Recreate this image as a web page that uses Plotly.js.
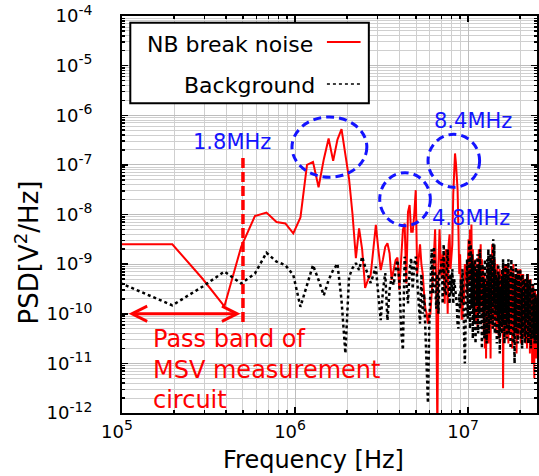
<!DOCTYPE html>
<html>
<head>
<meta charset="utf-8">
<script src="https://cdn.plot.ly/plotly-3.0.1.min.js"></script>
<style>html,body{margin:0;padding:0;background:#fff;}#chart{width:539px;height:476px;}</style>
</head>
<body>
<div id="chart"></div>
<script>
// FFT bin spacing of the spectrum (bins k = 1..256 -> 97.7 kHz .. 25 MHz)
const binWidthHz = 97656.25;

// PSD values as powers of ten (log10 of V^2/Hz), one per frequency bin
const nbBreakNoiseExp = [
 -8.60,-8.60,-9.30,-9.85,-8.65,-8.03,-7.96,-8.15,-8.18,-8.38,
 -8.06,-7.00,-6.94,-7.45,-6.89,-6.47,-6.92,-6.49,-6.28,-6.82,
 -7.28,-8.00,-8.88,-8.28,-8.70,-9.48,-9.32,-9.22,-8.75,-8.21,
 -8.70,-9.12,-8.90,-8.65,-8.58,-8.78,-9.32,-9.10,-8.92,-8.87,
 -9.52,-8.90,-8.31,-8.18,-9.39,-7.95,-7.81,-8.35,-8.35,-8.00,
 -7.51,-9.20,-8.90,-8.60,-9.00,-9.20,-9.60,-9.90,-10.00,-10.20,
 -10.00,-10.00,-9.60,-9.30,-8.80,-8.30,-9.50,-12.50,-9.00,-8.30,
 -8.90,-9.30,-8.80,-8.90,-9.80,-8.70,-8.80,-10.00,-8.60,-8.40,
 -9.10,-8.90,-8.60,-7.60,-7.10,-6.77,-6.95,-7.20,-7.50,-8.30,
 -9.20,-8.80,-9.60,-10.10,-10.10,-9.40,-9.80,-9.00,-9.30,-9.00,
 -9.6,-8.8,-8.5,-9.4,-8.3,-9.3,-8.2,-9.6,-8.7,-9.9,
 -9.0,-10.1,-8.9,-10.2,-9.3,-10.3,-9.0,-8.7,-9.9,-8.6,
 -8.6,-9.8,-8.9,-10.0,-9.1,-10.4,-9.2,-10.7,-9.3,-10.9,
 -9.5,-10.2,-9.0,-10.6,-9.3,-10.0,-9.1,-10.9,-9.4,-10.1,
 -8.6,-9.8,-10.3,-9.0,-10.1,-8.9,-10.0,-9.2,-10.4,-9.3,
 -9.0,-10.2,-9.2,-10.5,-9.4,-9.1,-10.3,-9.3,-10.0,-9.2,
 -9.8,-9.3,-11.5,-9.2,-9.0,-10.4,-9.2,-10.1,-9.0,-10.5,
 -9.3,-10.2,-9.0,-10.0,-10.6,-9.2,-10.3,-9.1,-10.4,-9.4,
 -9.1,-10.3,-9.3,-10.7,-9.2,-10.0,-9.0,-10.5,-9.4,-10.2,
 -9.2,-10.4,-9.3,-10.0,-10.8,-9.2,-10.2,-9.1,-10.5,-9.4,
 -9.2,-10.4,-9.5,-10.1,-9.1,-10.6,-9.3,-10.2,-9.2,-10.4,
 -9.4,-10.3,-9.2,-10.5,-9.5,-9.3,-10.4,-9.4,-10.1,-10.6,
 -9.3,-10.2,-9.5,-10.7,-9.4,-10.1,-9.2,-10.5,-9.5,-10.3,
 -9.4,-10.2,-10.8,-9.5,-9.3,-10.4,-9.6,-10.6,-9.5,-11.0,
 -9.7,-10.5,-9.4,-10.2,-9.6,-10.7,-11.3,-9.7,-10.3,-9.5,
 -10.6,-9.8,-10.9,-9.7,-10.4,-9.6
];
const backgroundExp = [
 -9.38,-9.83,-9.45,-9.15,-9.39,-9.19,-8.77,-8.95,-9.02,-9.22,
 -9.86,-9.42,-9.02,-9.32,-9.63,-9.32,-9.12,-8.99,-9.73,-10.80,
 -9.26,-9.08,-8.98,-9.12,-8.85,-9.05,-9.22,-9.38,-9.22,-9.05,
 -9.62,-10.13,-9.52,-9.18,-10.13,-9.52,-9.26,-9.42,-9.12,-8.92,
 -9.32,-10.33,-10.73,-8.85,-9.32,-9.79,-9.12,-8.88,-9.50,-9.00,
 -8.85,-9.40,-9.90,-10.20,-9.20,-10.00,-9.60,-10.40,-10.90,-11.80,
 -10.30,-9.40,-8.70,-9.60,-8.65,-9.30,-9.90,-9.20,-10.00,-9.10,
 -9.20,-8.90,-9.80,-8.60,-9.60,-9.60,-9.00,-8.70,-9.40,-9.80,
 -9.20,-9.60,-9.10,-9.80,-9.30,-9.50,-9.70,-9.80,-10.20,-10.30,
 -9.60,-9.90,-9.30,-9.80,-9.10,-9.50,-10.40,-11.00,-10.20,-9.40,
 -8.9,-10.1,-9.1,-8.5,-10.3,-8.6,-9.9,-8.8,-10.5,-9.0,
 -10.2,-8.9,-10.6,-9.1,-9.8,-8.8,-10.4,-9.0,-10.0,-8.7,
 -10.3,-9.2,-10.7,-9.0,-10.1,-9.3,-10.5,-8.9,-9.9,-9.4,
 -10.6,-8.9,-10.0,-8.7,-10.4,-9.1,-9.9,-8.8,-10.2,-9.2,
 -8.9,-10.3,-8.5,-9.8,-8.6,-10.4,-9.1,-10.0,-9.2,-10.6,
 -9.3,-10.1,-9.0,-10.5,-9.2,-10.8,-9.5,-10.0,-9.3,-10.4,
 -9.1,-10.2,-8.9,-10.0,-9.4,-10.6,-9.2,-9.9,-9.0,-10.3,
 -9.3,-10.5,-9.1,-10.1,-8.9,-10.4,-9.4,-10.0,-9.2,-10.7,
 -9.5,-8.9,-10.3,-9.2,-10.0,-9.1,-10.6,-9.4,-10.5,-11.0,
 -9.3,-10.2,-9.0,-10.4,-9.2,-10.1,-9.5,-10.6,-9.1,-10.0,
 -9.2,-10.3,-9.4,-10.0,-9.1,-10.5,-9.3,-10.2,-9.5,-10.7,
 -9.2,-10.1,-9.4,-10.4,-9.3,-10.0,-9.6,-10.6,-9.4,-10.2,
 -9.3,-10.5,-9.5,-10.1,-9.2,-10.3,-9.6,-10.6,-9.4,-10.2,
 -9.5,-10.4,-9.3,-10.1,-9.6,-10.7,-9.4,-10.3,-9.7,-10.5,
 -9.6,-10.2,-9.4,-10.5,-9.7,-10.1,-9.5,-10.6,-9.8,-10.3,
 -9.6,-10.4,-9.9,-10.6,-9.7,-10.2
];

const seriesNames = ['NB break noise', 'Background'];
const xTickVals = [1e5, 1e6, 1e7];
const xTickExp = ['5', '6', '7'];
const yTickVals = [1e-12, 1e-11, 1e-10, 1e-9, 1e-8, 1e-7, 1e-6, 1e-5, 1e-4];
const yTickExp = ['-12', '-11', '-10', '-9', '-8', '-7', '-6', '-5', '-4'];
const peakLabels = ['1.8MHz', '4.8MHz', '8.4MHz'];
const passBandLines = ['Pass band of', 'MSV measurement', 'circuit'];
const passBandEdgeHz = 5e5;
const xRangeHz = [1e5, 2.5e7];
const yRangeV2Hz = [1e-12, 1e-4];

const powLabel = e => '10<sup><span style="font-size:14px">' + e + '</span></sup>';
const xTickText = xTickExp.map(powLabel);
const yTickText = yTickExp.map(powLabel);

const freqHz = nbBreakNoiseExp.map((_, i) => (i + 1) * binWidthHz);
const nbPsd = nbBreakNoiseExp.map(e => Math.pow(10, e));
const bgPsd = backgroundExp.map(e => Math.pow(10, e));

const lx0 = Math.log10(xRangeHz[0]), lx1 = Math.log10(xRangeHz[1]);
const px = f => (Math.log10(f) - lx0) / (lx1 - lx0);   // frequency -> paper x
const ly0 = Math.log10(yRangeV2Hz[0]), ly1 = Math.log10(yRangeV2Hz[1]);
const py = v => (Math.log10(v) - ly0) / (ly1 - ly0);   // PSD -> paper y

const traces = [
  {x: freqHz, y: nbPsd, name: seriesNames[0], type: 'scatter', mode: 'lines',
   line: {color: '#ff0000', width: 2}},
  {x: freqHz, y: bgPsd, name: seriesNames[1], type: 'scatter', mode: 'lines',
   line: {color: '#000000', width: 2.5, dash: 'dot'}}
];

const blue = '#1414ff';
const red = '#ff0000';
const F = 'DejaVu Sans, Arial, sans-serif';

const axisCommon = {
  type: 'log', tickmode: 'array', ticks: 'inside', ticklen: 6, tickwidth: 1.5, tickcolor: '#000',
  showline: true, linecolor: '#000', linewidth: 2, mirror: 'allticks',
  showgrid: true, gridcolor: '#bdbdbd', gridwidth: 1, zeroline: false,
  tickfont: {size: 18, family: F, color: '#000'},
  minor: {dtick: 'D1', showgrid: true, gridcolor: '#cfcfcf', gridwidth: 1, ticks: 'inside', ticklen: 3, tickcolor: '#000'}
};

const layout = {
  width: 539, height: 476,
  margin: {l: 122, r: 2, t: 16, b: 63},
  paper_bgcolor: '#fff', plot_bgcolor: '#fff',
  showlegend: false,
  font: {family: F, color: '#000'},
  xaxis: Object.assign({}, axisCommon, {
    range: [lx0, lx1], tickvals: xTickVals, ticktext: xTickText, ticklabelstandoff: 1, ticklabelshift: -5
  }),
  yaxis: Object.assign({}, axisCommon, {
    range: [ly0, ly1], tickvals: yTickVals, ticktext: yTickText, ticklabelstandoff: 24
  }),
  shapes: [
    // legend frame and samples
    {type: 'rect', xref: 'paper', yref: 'paper', x0: 0.020, x1: 0.5948, y0: 0.780, y1: 0.983,
     line: {color: '#000', width: 2}, fillcolor: '#fff', layer: 'above'},
    {type: 'line', xref: 'paper', yref: 'paper', x0: 0.4938, x1: 0.5749, y0: 0.9345, y1: 0.9345,
     line: {color: red, width: 2}, layer: 'above'},
    {type: 'line', xref: 'paper', yref: 'paper', x0: 0.4938, x1: 0.5749, y0: 0.8287, y1: 0.8287,
     line: {color: '#000', width: 1.5, dash: 'dot'}, layer: 'above'},
    // pass band edge
    {type: 'line', xref: 'paper', yref: 'paper', x0: px(passBandEdgeHz), x1: px(passBandEdgeHz),
     y0: py(6.8e-11), y1: py(1.6e-7), line: {color: red, width: 3.5, dash: '10px,4px'}, layer: 'above'},
    // circles around peaks
    {type: 'circle', xref: 'paper', yref: 'paper', x0: 0.4096, x1: 0.590, y0: 0.594, y1: 0.7456,
     line: {color: blue, width: 3, dash: '8px,5px'}, layer: 'above'},
    {type: 'circle', xref: 'paper', yref: 'paper', x0: 0.621, x1: 0.743, y0: 0.4718, y1: 0.6053,
     line: {color: blue, width: 3, dash: '8px,5px'}, layer: 'above'},
    {type: 'circle', xref: 'paper', yref: 'paper', x0: 0.7374, x1: 0.8617, y0: 0.5685, y1: 0.702,
     line: {color: blue, width: 3, dash: '8px,5px'}, layer: 'above'}
  ],
  annotations: [
    // axis titles
    {text: 'Frequency [Hz]', xref: 'paper', yref: 'paper', x: 0.4625, y: -0.118,
     xanchor: 'center', yanchor: 'middle', showarrow: false, font: {size: 24, family: F, color: '#000'}},
    {text: 'PSD[V<sup>2</sup>/Hz]', xref: 'paper', yref: 'paper', x: -0.228, y: 0.4055, textangle: -90,
     xanchor: 'center', yanchor: 'middle', showarrow: false, font: {size: 26, family: F, color: '#000'}},
    // legend labels
    {text: seriesNames[0], xref: 'paper', yref: 'paper', x: 0.4649, y: 0.9278,
     xanchor: 'right', yanchor: 'middle', showarrow: false, font: {size: 22, family: F, color: '#000'}},
    {text: seriesNames[1], xref: 'paper', yref: 'paper', x: 0.4689, y: 0.8237,
     xanchor: 'right', yanchor: 'middle', showarrow: false, font: {size: 22, family: F, color: '#000'}},
    // peak labels
    {text: peakLabels[0], xref: 'x', yref: 'y', x: 5.635, y: -6.534, xanchor: 'center', yanchor: 'middle',
     showarrow: false, font: {size: 21, family: F, color: blue}},
    {text: peakLabels[1], xref: 'x', yref: 'y', x: 7.017, y: -8.073, xanchor: 'center', yanchor: 'middle',
     showarrow: false, font: {size: 21, family: F, color: blue}},
    {text: peakLabels[2], xref: 'x', yref: 'y', x: 7.029, y: -6.117, xanchor: 'center', yanchor: 'middle',
     showarrow: false, font: {size: 21, family: F, color: blue}},
    // pass band text
    {text: passBandLines[0], xref: 'x', yref: 'y', x: 5.167, y: -10.50, xanchor: 'left', yanchor: 'middle',
     showarrow: false, font: {size: 24, family: F, color: red}},
    {text: passBandLines[1], xref: 'x', yref: 'y', x: 5.167, y: -11.14, xanchor: 'left', yanchor: 'middle',
     showarrow: false, font: {size: 24, family: F, color: red}},
    {text: passBandLines[2], xref: 'x', yref: 'y', x: 5.167, y: -11.74, xanchor: 'left', yanchor: 'middle',
     showarrow: false, font: {size: 24, family: F, color: red}},
    // double arrow for pass band
    {text: '', xref: 'x', yref: 'y', axref: 'x', ayref: 'y',
     x: Math.log10(4.84e5), y: -10.0, ax: Math.log10(1.07e5), ay: -10.0,
     showarrow: true, arrowside: 'end+start', arrowhead: 5, startarrowhead: 5,
     arrowsize: 1, startarrowsize: 1, arrowwidth: 3, arrowcolor: red, standoff: 0, startstandoff: 0}
  ]
};

Plotly.newPlot('chart', traces, layout, {displayModeBar: false, staticPlot: true});
</script>
</body>
</html>
